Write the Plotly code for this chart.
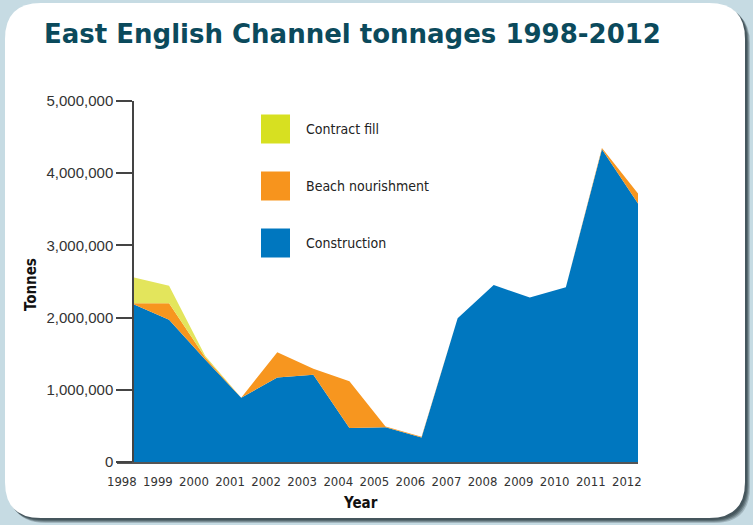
import plotly.graph_objects as go

# --- data -------------------------------------------------------------
years = list(range(1998, 2013))
year_labels = [str(y) for y in years]

construction = [2190000, 1970000, 1420000, 890000, 1170000, 1210000, 470000,
                480000, 340000, 1990000, 2450000, 2280000, 2420000, 4330000,
                3580000]
beach_nourishment = [10000, 230000, 30000, 0, 350000, 80000, 650000,
                     10000, 10000, 0, 0, 0, 0, 20000, 140000]
contract_fill = [360000, 240000, 20000, 0, 0, 0, 0, 0, 0, 0, 0, 0, 0, 0, 0]

y_ticks = [0, 1000000, 2000000, 3000000, 4000000, 5000000]
y_tick_text = ["0", "1,000,000", "2,000,000", "3,000,000", "4,000,000",
               "5,000,000"]

series = [
    ("Construction", construction, "#0077bf"),
    ("Beach nourishment", beach_nourishment, "#f7961f"),
    ("Contract fill", contract_fill, "#e3e55c"),
]
legend_rows = [("Contract fill", "#d7e021"),
               ("Beach nourishment", "#f7941d"),
               ("Construction", "#0077bf")]

# --- figure geometry (pixels) ----------------------------------------
W, H = 753, 525
PL, PR, PT, PB = 117, 638, 101, 462   # plot area edges
PW, PH = PR - PL, PB - PT
X_START = 1998 - 16 * 14 / (PR - 133)   # leave room left of the first year
LABEL_SHIFT = 0.31                      # year labels sit left of each column


def px(x):
    return (x - PL) / PW


def py(y):
    return (PB - y) / PH


def rounded_rect(x0, y0, x1, y1, r):
    rx, ry = r / PW, r / PH
    a, b, c, d = px(x0), py(y0), px(x1), py(y1)
    return (f"M {a + rx},{b} L {c - rx},{b} Q {c},{b} {c},{b - ry} "
            f"L {c},{d + ry} Q {c},{d} {c - rx},{d} L {a + rx},{d} "
            f"Q {a},{d} {a},{d + ry} L {a},{b - ry} Q {a},{b} {a + rx},{b} Z")


NARROW = "DejaVu Sans Condensed, Liberation Sans Narrow, sans-serif"

fig = go.Figure()
for name, vals, fill in series:
    fig.add_trace(go.Scatter(
        x=years, y=vals, name=name, mode="lines",
        stackgroup="tonnes", line=dict(width=0, color=fill),
        fillcolor=fill, showlegend=False, hoverinfo="x+y+name",
    ))

shapes = []
# card shadow and white card
for off, op in [(5, 0.25), (4, 0.35), (3, 0.45), (2, 0.55)]:
    shapes.append(dict(type="path", xref="paper", yref="paper", layer="below",
                       path=rounded_rect(5 + off, 3 + off, 745 + off, 518 + off, 36),
                       fillcolor="#34444a", opacity=op, line=dict(width=0)))
shapes.append(dict(type="path", xref="paper", yref="paper", layer="below",
                   path=rounded_rect(5, 3, 745, 518, 36),
                   fillcolor="white", line=dict(width=0)))

annotations = []
# legend swatches and labels
for i, (label, col) in enumerate(legend_rows):
    cy = 129 + 57 * i
    shapes.append(dict(type="rect", xref="paper", yref="paper",
                       x0=px(261), x1=px(290), y0=py(cy - 14.5), y1=py(cy + 14.5),
                       fillcolor=col, line=dict(width=0)))
    annotations.append(dict(text=label, xref="paper", yref="paper",
                            x=px(304), y=py(cy), xanchor="left", yanchor="middle",
                            showarrow=False,
                            font=dict(family=NARROW, size=14, color="#222222")))

annotations.append(dict(text="<b>Year</b>", xref="paper", yref="paper",
                        x=px(360), y=py(503), xanchor="center", yanchor="middle",
                        showarrow=False,
                        font=dict(family=NARROW, size=15, color="#111111")))
annotations.append(dict(text="<b>Tonnes</b>", xref="paper", yref="paper",
                        x=px(31), y=py(285), xanchor="center", yanchor="middle",
                        textangle=-90, showarrow=False,
                        font=dict(family=NARROW, size=15, color="#111111")))
annotations.append(dict(text="<b>East English Channel tonnages 1998-2012</b>",
                        xref="paper", yref="paper", x=px(42), y=py(34),
                        xanchor="left", yanchor="middle", showarrow=False,
                        font=dict(family="DejaVu Sans", size=26, color="#0b4a5c")))

fig.update_layout(
    width=W, height=H,
    margin=dict(l=PL, r=W - PR, t=PT, b=H - PB, pad=0),
    paper_bgcolor="#c6dbe3",
    plot_bgcolor="white",
    shapes=shapes,
    annotations=annotations,
    xaxis=dict(range=[X_START, 2012], showgrid=False, zeroline=False,
               tickvals=[y - LABEL_SHIFT for y in years], ticktext=year_labels,
               ticks="outside", ticklen=7, tickcolor="rgba(0,0,0,0)",
               tickfont=dict(family=NARROW, size=13, color="#333333"),
               showline=True, linecolor="#555555", linewidth=1.5,
               fixedrange=True),
    yaxis=dict(range=[0, 5000000], tickvals=y_ticks, ticktext=y_tick_text,
               anchor="free", position=(133 - PL) / PW,
               ticks="outside", ticklen=16, tickwidth=1.5, tickcolor="#444444",
               showline=True, linecolor="#444444", linewidth=1.5,
               showgrid=False, zeroline=False,
               tickfont=dict(family="Liberation Sans, Arial, sans-serif",
                             size=15, color="#333333"),
               fixedrange=True),
)

fig.write_html("out.html")
